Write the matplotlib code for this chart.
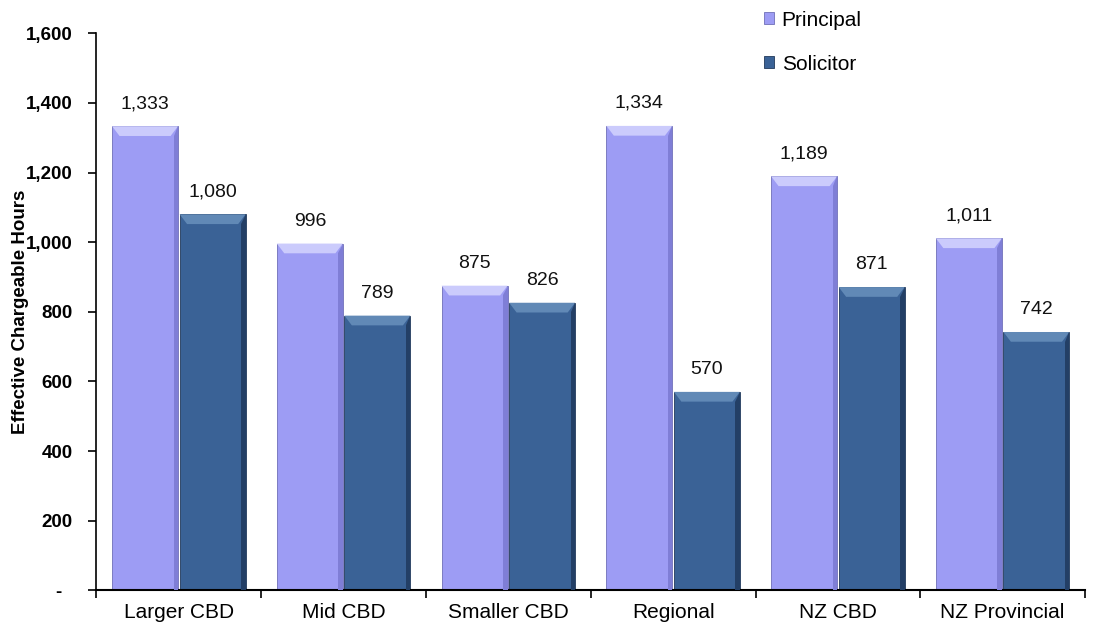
import numpy as np
import matplotlib.pyplot as plt
from matplotlib.patches import Polygon
from matplotlib.ticker import FuncFormatter

plt.rcParams['font.family'] = ['Liberation Sans', 'DejaVu Sans']

regions = ['Larger CBD', 'Mid CBD', 'Smaller CBD', 'Regional', 'NZ CBD', 'NZ Provincial']
principal = [1333, 996, 875, 1334, 1189, 1011]
solicitor = [1080, 789, 826, 570, 871, 742]

c_princ = '#9d9cf4'
c_solic = '#3a6296'
light_princ = '#cbcbfc'
light_solic = '#6189b6'
dark_princ = '#7f7ed6'
dark_solic = '#233f66'

fig = plt.figure(figsize=(10.96, 6.28), dpi=100)
ax = fig.add_axes([0.088, 0.06, 0.902, 0.887])

x = np.arange(len(regions))
w = 0.4
bp = ax.bar(x - 0.205, principal, w, color=c_princ, edgecolor='#6f6fb8', linewidth=0.6,
            label='Principal', zorder=2)
bs = ax.bar(x + 0.205, solicitor, w, color=c_solic, edgecolor='#22395a', linewidth=0.6,
            label='Solicitor', zorder=2)

# bevel: lighter top cap and darker right side
bx, by = 0.045, 28
for bars, lt, dk in [(bp, light_princ, dark_princ), (bs, light_solic, dark_solic)]:
    for b in bars:
        x0, x1, h = b.get_x(), b.get_x() + b.get_width(), b.get_height()
        ax.add_patch(Polygon([(x0, h), (x1, h), (x1 - bx, h - by), (x0 + bx, h - by)],
                             closed=True, color=lt, zorder=3, lw=0))
        ax.add_patch(Polygon([(x1, h), (x1, 0), (x1 - bx * 0.6, 0), (x1 - bx * 0.6, h - by)],
                             closed=True, color=dk, zorder=3, lw=0))
        ax.text(b.get_x() + b.get_width() / 2, h + 40, f'{h:,.0f}', ha='center', va='bottom',
                fontsize=14, color='#111111')

ax.set_xlim(-0.5, len(regions) - 0.5)
ax.set_ylim(0, 1600)
ax.set_yticks(np.arange(0, 1601, 200))
ax.yaxis.set_major_formatter(FuncFormatter(lambda v, p: '-  ' if v == 0 else f'{v:,.0f}'))
ax.set_xticks(x)
ax.set_xticklabels(regions, fontsize=15)
ax.set_xticks(np.arange(-0.5, len(regions)), minor=True)
ax.tick_params(axis='x', which='major', length=0, pad=9)
ax.tick_params(axis='x', which='minor', length=6, width=1.2, direction='out')
ax.tick_params(axis='y', length=6, width=1.2, direction='out', labelsize=13.5, pad=11)
for lbl in ax.get_yticklabels():
    lbl.set_fontweight('bold')

for s in ['top', 'right']:
    ax.spines[s].set_visible(False)
ax.spines['left'].set_linewidth(1.2)
ax.spines['bottom'].set_linewidth(1.5)

ax.set_ylabel('Effective Chargeable Hours', fontsize=13.5, fontweight='bold')
ax.yaxis.set_label_coords(-0.068, 0.5)

fig.legend(handles=[bp, bs], loc='upper left', bbox_to_anchor=(0.68, 1.013), frameon=False,
           fontsize=15, handlelength=0.5, handleheight=0.5, handletextpad=0.35,
           labelspacing=1.2)

fig.savefig('out.png', dpi=100)
